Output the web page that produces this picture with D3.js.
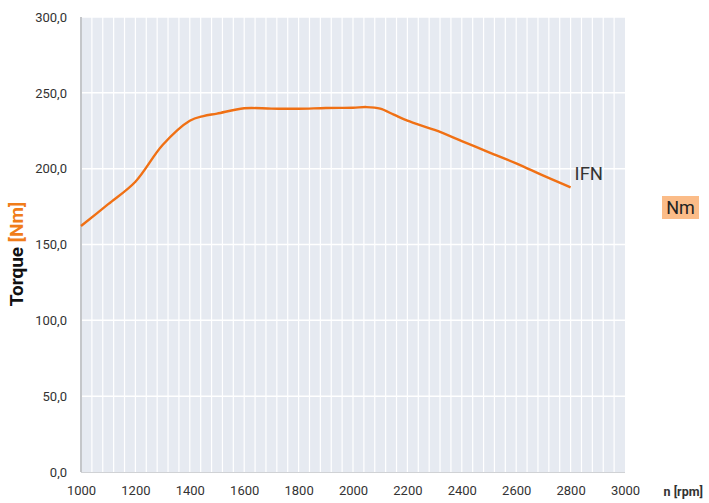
<!DOCTYPE html>
<html><head><meta charset="utf-8">
<script src="https://cdn.jsdelivr.net/npm/d3@7"></script>
<style>body{margin:0;background:#fff}svg{display:block}</style>
</head><body>
<svg id="c" width="709" height="503"></svg>
<script>
const rpm =    [1000, 1100, 1200, 1300, 1400, 1450, 1500, 1600, 1700, 1800, 1900, 2000, 2050, 2100, 2150, 2200, 2300, 2400, 2500, 2600, 2700, 2800];
const torque = [162.2, 176.6, 191.4, 215.6, 231.6, 234.7, 236.3, 239.8, 239.6, 239.5, 240.0, 240.2, 240.6, 239.6, 235.6, 231.6, 225.5, 218.2, 210.8, 203.5, 195.4, 187.7];
const xTicks = [1000,1200,1400,1600,1800,2000,2200,2400,2600,2800,3000];
const yTicks = [0,50,100,150,200,250,300];
const seriesName = "IFN";
const unitLabel = "Nm";

const svg = d3.select("#c");
const L=81, R=625, T=17, B=472;
const x = d3.scaleLinear().domain([1000,3000]).range([L,R]);
const y = d3.scaleLinear().domain([0,300]).range([B,T]);
const font = "Roboto, 'DejaVu Sans', sans-serif";

svg.append("rect").attr("x",L).attr("y",T).attr("width",R-L).attr("height",B-T).attr("fill","#e6eaf1");
// vertical grid every 40 rpm
const vgrid = d3.range(1040, 3000, 40);
svg.append("g").selectAll("line").data(vgrid).join("line")
  .attr("x1",d=>x(d)).attr("x2",d=>x(d)).attr("y1",T).attr("y2",B)
  .attr("stroke","#fff").attr("stroke-width",1.2);
svg.append("g").selectAll("line").data(yTicks.filter(d=>d>0)).join("line")
  .attr("x1",L).attr("x2",R).attr("y1",d=>y(d)).attr("y2",d=>y(d))
  .attr("stroke","#fff").attr("stroke-width",1.5);
// axes lines
svg.append("line").attr("x1",L).attr("x2",L).attr("y1",T).attr("y2",B).attr("stroke","#c4c6c9").attr("stroke-width",2);
svg.append("line").attr("x1",L).attr("x2",R).attr("y1",B+0.5).attr("y2",B+0.5).attr("stroke","#d0d2d5").attr("stroke-width",1);

// tick labels
const yAxis = d3.axisLeft(y).tickValues(yTicks).tickSize(0).tickPadding(14)
  .tickFormat(d=>d3.format(".1f")(d).replace(".",","));
const gy = svg.append("g").attr("transform",`translate(${L},0)`).call(yAxis);
gy.select(".domain").remove();
gy.selectAll("text").attr("font-family",font).attr("font-size",13).attr("fill","#333");

const xAxis = d3.axisBottom(x).tickValues(xTicks).tickSize(0).tickPadding(14).tickFormat(d3.format("d"));
const gx = svg.append("g").attr("transform",`translate(0,${B})`).call(xAxis);
gx.select(".domain").remove();
gx.selectAll("text").attr("font-family",font).attr("font-size",13).attr("fill","#333");

svg.append("text").attr("x",703).attr("y",496).attr("text-anchor","end")
  .attr("font-family",font).attr("font-size",12.5).attr("font-weight","bold").attr("fill","#333").text("n [rpm]");

// y title
const yt = svg.append("text").attr("transform","translate(23,254) rotate(-90)").attr("text-anchor","middle")
  .attr("font-family",font).attr("font-size",19).attr("font-weight","bold");
yt.append("tspan").attr("fill","#111").text("Torque ");
yt.append("tspan").attr("fill","#f07d1a").text("[Nm]");

// line
const data = rpm.map((r,i)=>[r,torque[i]]);
svg.append("path").datum(data)
  .attr("d", d3.line().x(d=>x(d[0])).y(d=>y(d[1])).curve(d3.curveCatmullRom.alpha(0.5)))
  .attr("fill","none").attr("stroke","#f07014").attr("stroke-width",2.4);

svg.append("text").attr("x",x(2800)+4).attr("y",y(torque[torque.length-1])-7)
  .attr("font-family",font).attr("font-size",18.5).attr("fill","#333").text(seriesName);

// unit box
svg.append("rect").attr("x",662).attr("y",196).attr("width",37).attr("height",23).attr("fill","#fbbc88");
svg.append("text").attr("x",680.5).attr("y",214).attr("text-anchor","middle")
  .attr("font-family",font).attr("font-size",18).attr("fill","#222").text(unitLabel);
</script>
</body></html>
